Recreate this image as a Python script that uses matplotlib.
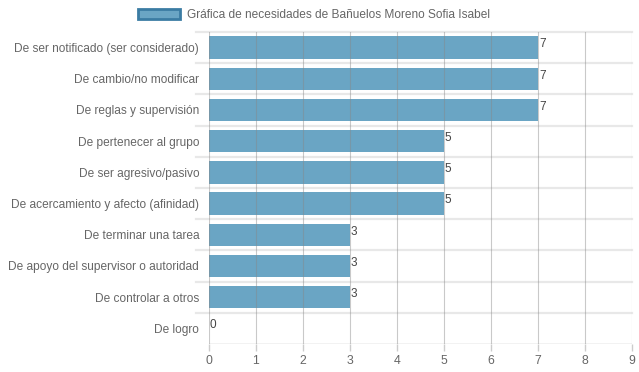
import matplotlib

matplotlib.use("Agg")
import matplotlib.pyplot as plt  # noqa: E402
from matplotlib.patches import Patch  # noqa: E402

categories = [
    "De ser notificado (ser considerado)",
    "De cambio/no modificar",
    "De reglas y supervisión",
    "De pertenecer al grupo",
    "De ser agresivo/pasivo",
    "De acercamiento y afecto (afinidad)",
    "De terminar una tarea",
    "De apoyo del supervisor o autoridad",
    "De controlar a otros",
    "De logro",
]
values = [7, 7, 7, 5, 5, 5, 3, 3, 3, 0]
x_ticks = list(range(0, 10))
legend_label = "Gráfica de necesidades de Bañuelos Moreno Sofia Isabel"

_TEXT = "#666666"
_BAR = "#6aa5c4"
_EDGE = "#3b7ca3"

plt.rcParams.update({
    "font.family": ["Liberation Sans", "DejaVu Sans"],
    "font.size": 8.6,
})

fig = plt.figure(figsize=(6.39, 3.72), dpi=100)
ax = fig.add_axes([0.327, 0.0753, 0.662, 0.8387])

n = len(categories)
pos = list(range(n))
ax.barh(pos, values, height=0.72, color=_BAR, zorder=2)

# value labels just past bar ends
for p, v in zip(pos, values):
    ax.text(v + 0.02, p - 0.1, str(v), ha="left", va="center",
            color="#444444", fontsize=8.5, zorder=4)

ax.set_ylim(n - 0.5, -0.5)
ax.set_xlim(0, 9)
ax.set_xticks(x_ticks)
ax.set_yticks(pos, categories)
ax.tick_params(axis="y", length=0, pad=7, colors=_TEXT, labelsize=8.6)
ax.tick_params(axis="x", length=5, width=1, color="#cccccc", pad=3,
               colors=_TEXT, labelsize=8.8)

# vertical grid on top of bars, faint
for xv in x_ticks:
    ax.axvline(xv, color="#888888", lw=0.8, alpha=0.45, zorder=3)
# horizontal grid between categories
for b in range(n):
    ax.axhline(b - 0.5, color="#e8e8e8", lw=1.6, zorder=1, clip_on=False,
               xmin=-0.03, xmax=1)
ax.axhline(n - 0.5, color="#999999", lw=0.9, zorder=3)

for s in ax.spines.values():
    s.set_visible(False)

leg = fig.legend(handles=[Patch(facecolor=_BAR, edgecolor=_EDGE, lw=2)],
                 labels=[legend_label], loc="upper center",
                 bbox_to_anchor=(0.491, 1.005), frameon=False, fontsize=8.6,
                 handlelength=3.5, handleheight=0.95, handletextpad=0.6)
for t in leg.get_texts():
    t.set_color(_TEXT)

fig.savefig("out.png", dpi=100)
